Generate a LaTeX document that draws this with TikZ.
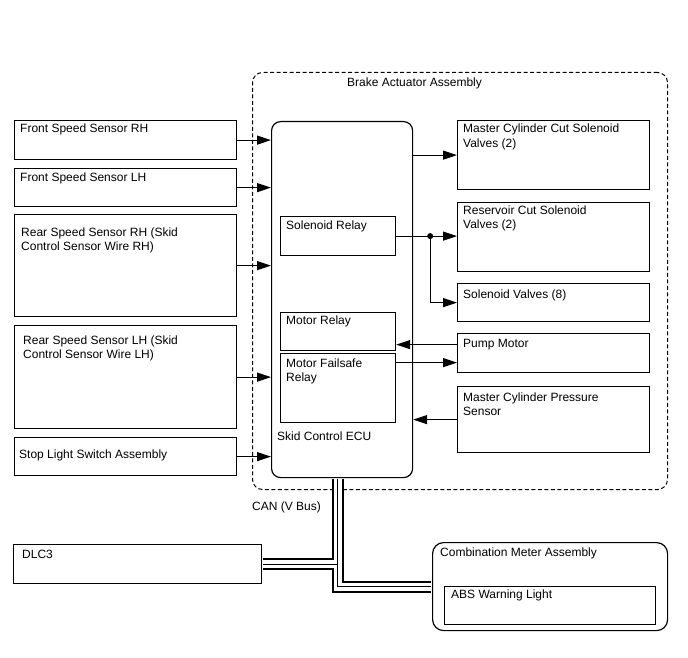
\documentclass[tikz,border=0pt]{standalone}
\usepackage{fontspec}
\setmainfont{Liberation Sans}
\usetikzlibrary{arrows.meta}
\begin{document}
\begin{tikzpicture}[x=1pt,y=-1pt,
  box/.style={draw, line width=1.2pt, anchor=north west, inner sep=0pt},
  rbox/.style={box, rounded corners=9pt},
  txt/.style={anchor=base west, inner sep=0pt, align=left, font=\fontsize{12}{14}\selectfont},
  arr/.style={line width=1.1pt, -{Triangle[length=14pt,width=9pt]}},
  dashbox/.style={draw, line width=1pt, dash pattern=on 4pt off 2.5pt, rounded corners=10pt, anchor=north west, inner sep=0pt}]
\useasboundingbox (0,0) rectangle (688,658);
% assembly outline
\node[dashbox, minimum width=415pt, minimum height=417pt] (baa) at (252,72) {};
\node[txt] (baat) at (347,87) {Brake Actuator Assembly};
% left inputs
\node[box, minimum width=222pt, minimum height=39pt] (frh) at (14,120) {};
\node[box, minimum width=222pt, minimum height=38pt] (flh) at (14,168) {};
\node[box, minimum width=222pt, minimum height=102pt] (rrh) at (14,214) {};
\node[box, minimum width=222pt, minimum height=103pt] (rlh) at (14,325) {};
\node[box, minimum width=222pt, minimum height=38pt] (sls) at (14,437) {};
\node[txt] (frht) at (20,133) {Front Speed Sensor RH};
\node[txt] (flht) at (20,182) {Front Speed Sensor LH};
\node[txt] (rrht) at (21,250) {Rear Speed Sensor RH (Skid\\Control Sensor Wire RH)};
\node[txt] (rlht) at (23,358) {Rear Speed Sensor LH (Skid\\Control Sensor Wire LH)};
\node[txt] (slst) at (19,458) {Stop Light Switch Assembly};
% ECU
\node[rbox, minimum width=141pt, minimum height=356pt] (ecu) at (271,121) {};
\node[box, minimum width=115pt, minimum height=39pt] (sr) at (280,216) {};
\node[box, minimum width=115pt, minimum height=38pt] (mr) at (280,312) {};
\node[box, minimum width=115pt, minimum height=69pt] (mfr) at (280,353) {};
\node[txt] (srt) at (286,229) {Solenoid Relay};
\node[txt] (mrt) at (286,324) {Motor Relay};
\node[txt] (mfrt) at (286,381) {Motor Failsafe\\Relay};
\node[txt] (ecut) at (277,440) {Skid Control ECU};
% right outputs
\node[box, minimum width=192pt, minimum height=69pt] (mcc) at (457,120) {};
\node[box, minimum width=192pt, minimum height=69pt] (rcs) at (457,202) {};
\node[box, minimum width=192pt, minimum height=38pt] (sv8) at (457,283) {};
\node[box, minimum width=192pt, minimum height=39pt] (pm) at (457,333) {};
\node[box, minimum width=192pt, minimum height=66pt] (mcp) at (457,386) {};
\node[txt] (mcct) at (463,147) {Master Cylinder Cut Solenoid\\Valves (2)};
\node[txt] (rcst) at (463,228) {Reservoir Cut Solenoid\\Valves (2)};
\node[txt] (sv8t) at (463,298) {Solenoid Valves (8)};
\node[txt] (pmt) at (463,347) {Pump Motor};
\node[txt] (mcpt) at (463,415) {Master Cylinder Pressure\\Sensor};
% bottom
\node[txt] (can) at (252,510) {CAN (V Bus)};
\node[box, minimum width=248pt, minimum height=39pt] (dlc) at (13,544) {};
\node[txt] (dlct) at (22,558) {DLC3};
\node[rbox, rounded corners=11pt, minimum width=235pt, minimum height=88pt] (comb) at (432,542) {};
\node[txt] (combt) at (440,556) {Combination Meter Assembly};
\node[box, minimum width=211pt, minimum height=38pt] (abs) at (444,586) {};
\node[txt] (abst) at (451,598) {ABS Warning Light};
% inputs to ECU
\foreach \n in {frh,flh,rrh,rlh,sls}
  \draw[arr] (\n.east) -- (\n.east -| ecu.west);
% outputs
\draw[arr] (mcc.west -| ecu.east) -- (mcc.west);
\coordinate (j) at ([xshift=34pt]sr.east);
\draw[arr] (sr.east) -- (sr.east -| rcs.west);
\draw[arr] (j) |- (sv8.west);
\fill (j) circle (3pt);
\draw[arr] ([yshift=8.5pt]pm.west) -- ([yshift=8.5pt]pm.west -| mr.east);
\draw[arr] ([yshift=-9.5pt]pm.west -| mfr.east) -- ([yshift=-9.5pt]pm.west);
\draw[arr] (mcp.west) -- (mcp.west -| ecu.east);
% CAN bus
\coordinate (bt) at ([xshift=-4.5pt,yshift=-0.7pt]ecu.south);
\foreach \w/\c in {12pt/black,8pt/white,1.2pt/black}{
  \draw[line width=\w,\c] (bt) |- ([xshift=0.7pt]dlc.east);
  \draw[line width=\w,\c] (bt) |- ([xshift=-0.7pt]comb.west);
}
\end{tikzpicture}
\end{document}
